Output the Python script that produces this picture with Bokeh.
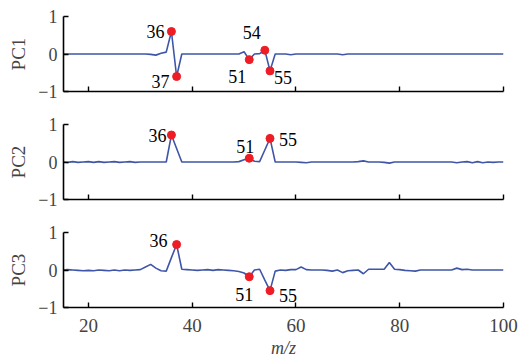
from bokeh.plotting import figure
from bokeh.layouts import column
from bokeh.models import Range1d, FixedTicker, ColumnDataSource
from bokeh.embed import file_html
from bokeh.resources import INLINE
from bokeh.core.properties import value

# ---------------- data ----------------
mz = list(range(15, 101))

pc1 = [0, 0, 0, 0, 0, 0, 0, 0, 0, 0,                                   # 15-24
       0, 0, 0, 0, 0, 0, 0, -0.01, -0.03, 0.02,                          # 25-34
       0.05, 0.60, -0.60, 0.0, 0, 0, 0, 0, 0, 0,                         # 35-44
       0, 0, 0, 0, 0.0, 0.06, -0.15, 0.0, 0.01, 0.10,                    # 45-54
       -0.45, 0.0, 0.0, 0.0, -0.02, 0.0, 0, 0, 0, 0,                     # 55-64
       0, 0, 0, 0, -0.02, 0.0, 0, 0, 0, 0,                               # 65-74
       0, 0, 0, 0, 0, 0, 0, 0, 0, 0,                                     # 75-84
       0, 0, 0, 0, 0, 0, 0, 0, 0, 0,                                     # 85-94
       0, 0, 0, 0, 0, 0]                                                 # 95-100

pc2 = [0.0, -0.01, 0.01, -0.01, 0.0, 0.01, -0.01, 0.01, -0.01, 0.0,
       0.01, -0.01, 0.0, 0.01, -0.01, 0.0, 0.0, 0.0, 0.0, 0.0,
       0.0, 0.72, 0.36, 0.0, 0.0, 0.0, 0.0, 0.0, 0.0, 0.0,
       0.0, 0.0, 0.0, 0.0, 0.01, 0.06, 0.10, 0.02, 0.01, 0.32,
       0.63, 0.0, 0.0, 0.0, 0.0, 0.0, -0.01, -0.02, 0.0, 0.0,
       0.0, 0.0, 0.0, 0.0, 0.0, 0.0, 0.0, 0.01, 0.03, 0.0,
       0.0, 0.0, -0.01, -0.03, 0.0, 0.0, 0.0, 0.0, 0.0, 0.0,
       0.0, 0.0, 0.0, 0.0, 0.0, 0.0, -0.02, 0.0, 0.01, -0.02,
       0.01, -0.02, 0.0, -0.01, 0.0, 0.0]

pc3 = [0.0, 0.01, 0.0, -0.01, -0.02, -0.01, -0.02, 0.0, -0.01, -0.02,
       0.0, -0.02, 0.0, -0.01, 0.0, 0.01, 0.08, 0.15, 0.05, -0.02,
       -0.03, 0.33, 0.68, 0.02, 0.01, 0.0, -0.01, 0.0, 0.01, -0.01,
       0.01, 0.0, -0.01, -0.02, -0.04, -0.08, -0.18, 0.0, 0.02, -0.27,
       -0.55, -0.03, 0.0, -0.01, 0.01, 0.01, 0.08, 0.01, 0.0, 0.0,
       0.0, -0.01, -0.03, 0.0, -0.07, -0.02, -0.01, 0.0, -0.10, 0.02,
       0.02, 0.02, 0.02, 0.20, 0.02, 0.01, -0.01, -0.02, -0.03, 0.0,
       0.0, 0.0, 0.0, 0.0, 0.0, 0.0, 0.05, 0.01, 0.02, 0.0,
       0.0, 0.0, 0.0, 0.0, 0.0, 0.0]

peaks1 = [36, 37, 51, 54, 55]
labels1 = ["36", "37", "51", "54", "55"]
peaks2 = [36, 51, 55]
labels2 = ["36", "51", "55"]
peaks3 = [37, 51, 55]
labels3 = ["36", "51", "55"]

panel_names = ["PC1", "PC2", "PC3"]
x_ticks = [20, 40, 60, 80, 100]
y_ticks = [-1, 0, 1]
y_tick_labels = {-1: "\u22121", 0: "0", 1: "1"}

# ---------------- styles ----------------
LINE = "#3f56a8"
DOT = "#ee1c24"
FONT = "'Liberation Serif', 'Times New Roman', serif"

# label placement (screen offsets, align)
offs1 = dict(dx=[-7, -7, -3, -13, 4], dy=[0, 5, 17, -18, 7],
             al=["right", "right", "right", "center", "left"])
offs2 = dict(dx=[-5, -4, 9], dy=[0, -12, 1],
             al=["right", "center", "left"])
offs3 = dict(dx=[-9, -5, 9], dy=[-4, 18, 5],
             al=["right", "center", "left"])


def make_panel(series, peaks, labels, offs, name, bottom):
    h = 146 if bottom else 108
    p = figure(width=518, height=h,
               x_range=Range1d(15.2, 100), y_range=Range1d(-1, 1),
               output_backend="svg", toolbar_location=None,
               min_border_left=63, min_border_right=15, min_border_top=16,
               min_border_bottom=55 if bottom else 17)
    p.outline_line_color = None
    p.grid.visible = False

    p.line(mz, series, line_color=LINE, line_width=1.6)

    ys = [series[mz.index(m)] for m in peaks]
    src = ColumnDataSource(dict(x=peaks, y=ys, t=labels,
                                dx=offs["dx"], dy=offs["dy"], al=offs["al"]))
    p.scatter("x", "y", source=src, size=8, fill_color=DOT, line_color=DOT)
    p.text("x", "y", text="t", source=src, x_offset="dx", y_offset="dy",
           text_align="al", text_baseline="middle",
           text_font=value(FONT), text_font_size="18px", text_color="black")

    ya = p.yaxis[0]
    ya.ticker = FixedTicker(ticks=y_ticks)
    ya.major_label_overrides = y_tick_labels
    ya.axis_label = name
    ya.axis_label_text_font = FONT
    ya.axis_label_text_font_style = "normal"
    ya.axis_label_text_font_size = "19px"
    ya.axis_label_standoff = 6
    ya.major_label_text_font = FONT
    ya.major_label_text_font_size = "18px"
    ya.major_label_standoff = 6
    ya.major_tick_in = 5
    ya.major_tick_out = 0
    ya.minor_tick_in = 0
    ya.minor_tick_out = 0
    ya.axis_line_width = 1.6
    ya.major_tick_line_width = 1.4

    xa = p.xaxis[0]
    xa.ticker = FixedTicker(ticks=x_ticks)
    xa.major_tick_in = 5
    xa.major_tick_out = 0
    xa.minor_tick_in = 0
    xa.minor_tick_out = 0
    xa.axis_line_width = 1.6
    xa.major_tick_line_width = 1.4
    xa.major_label_text_font = FONT
    if bottom:
        xa.major_label_text_font_size = "19px"
        xa.major_label_standoff = 11
        xa.axis_label = "m/z"
        xa.axis_label_text_font = FONT
        xa.axis_label_text_font_style = "italic"
        xa.axis_label_text_font_size = "18px"
        xa.axis_label_standoff = 3
    else:
        xa.major_label_overrides = {t: "" for t in x_ticks}
        xa.major_label_text_font_size = "1px"
        xa.major_label_standoff = 0
    return p


p1 = make_panel(pc1, peaks1, labels1, offs1, panel_names[0], False)
p2 = make_panel(pc2, peaks2, labels2, offs2, panel_names[1], False)
p3 = make_panel(pc3, peaks3, labels3, offs3, panel_names[2], True)

layout = column(p1, p2, p3, spacing=0)
open("out.html", "w").write(file_html(layout, INLINE))
